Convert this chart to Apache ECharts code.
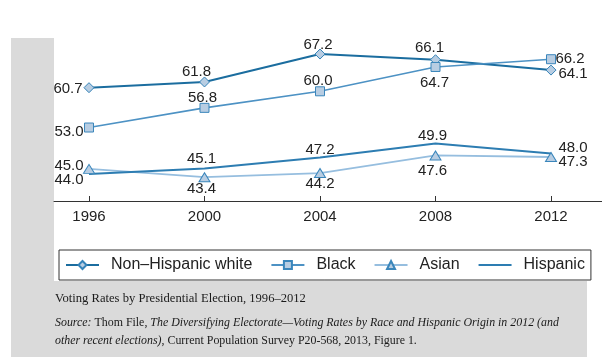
<!DOCTYPE html>
<html>
<head>
<meta charset="utf-8">
<script src="https://cdn.jsdelivr.net/npm/echarts@6/dist/echarts.min.js"></script>
<style>
html,body{margin:0;padding:0;background:#fff;}
#chart{width:602px;height:357px;}
</style>
</head>
<body>
<div id="chart"></div>
<script>
// ---- data ----
const years = [1996, 2000, 2004, 2008, 2012];
const tickLabels = ['1996', '2000', '2004', '2008', '2012'];
const seriesNames = ['Non\u2013Hispanic white', 'Black', 'Asian', 'Hispanic'];
const whiteVals = [60.7, 61.8, 67.2, 66.1, 64.1];
const blackVals = [53.0, 56.8, 60.0, 64.7, 66.2];
const asianVals = [45.0, 43.4, 44.2, 47.6, 47.3];
const hispanicVals = [44.0, 45.1, 47.2, 49.9, 48.0];
const captionTitle = 'Voting Rates by Presidential Election, 1996\u20132012';

// ---- label placement (style only) ----
const whiteOff = [[-21, 1], [-8, -10], [-2, -9], [-6, -12], [22, 4]];
const blackOff = [[-20, 4], [-2, -10], [-2, -10], [-1, 16], [19, 0]];
const asianOff = [[-20, -3], [-3, 12], [0, 11], [-3, 15], [22, 5]];
const hispOff  = [[-20, 6], [-3, -10], [0, -8], [-3, -8], [22, -6]];

const FONT = "'Liberation Sans', Arial, sans-serif";
const SERIF = "'Liberation Serif', 'DejaVu Serif', serif";
const markerFill = '#b8cde2';

function mkData(vals, offs) {
  return years.map((y, i) => ({
    value: [y, vals[i]],
    label: { offset: offs[i] }
  }));
}
function mkSeries(name, vals, offs, color, width, symbol, size, border) {
  return {
    name: name,
    type: 'line',
    data: mkData(vals, offs),
    symbol: symbol,
    symbolSize: size,
    showSymbol: true,
    z: 3,
    lineStyle: { color: color, width: width },
    itemStyle: symbol === 'circle'
      ? { color: 'rgba(0,0,0,0)', borderWidth: 0 }
      : { color: markerFill, borderColor: border, borderWidth: 1 },
    label: {
      show: true,
      position: 'inside',
      align: 'center',
      verticalAlign: 'middle',
      color: '#222',
      fontFamily: FONT,
      fontSize: 15,
      formatter: p => p.value[1].toFixed(1)
    },
    emphasis: { disabled: true },
    animation: false
  };
}

const chart = echarts.init(document.getElementById('chart'), null, { renderer: 'canvas' });
chart.setOption({
  backgroundColor: '#ffffff',
  animation: false,
  grid: { left: 54, right: 0, top: 38, height: 163, containLabel: false },
  xAxis: {
    type: 'value',
    min: 1994.788,
    max: 2013.766,
    axisLine: { show: true, lineStyle: { color: '#333', width: 1 } },
    axisTick: { show: true, inside: true, length: 5, lineStyle: { color: '#333' }, customValues: years },
    axisLabel: {
      show: true, customValues: years, margin: 8,
      color: '#222', fontSize: 15, fontFamily: FONT,
      formatter: v => tickLabels[years.indexOf(v)] || ''
    },
    splitLine: { show: false }
  },
  yAxis: {
    type: 'value', min: 38.8, max: 70.3,
    show: false, splitLine: { show: false }
  },
  legend: {
    left: 59, top: 250,
    orient: 'horizontal',
    data: seriesNames,
    borderColor: '#333', borderWidth: 1,
    padding: [7, 6, 7, 6],
    itemWidth: 33, itemHeight: 10, itemGap: 18,
    textStyle: { color: '#222', fontSize: 16, fontFamily: FONT, padding: [0, 0, 0, 7] },
    backgroundColor: '#fff'
  },
  graphic: [
    { type: 'rect', z: -10, silent: true, shape: { x: 11, y: 38, width: 43, height: 319 }, style: { fill: '#dadada' } },
    { type: 'rect', z: -10, silent: true, shape: { x: 11, y: 281, width: 576, height: 76 }, style: { fill: '#dadada' } },
    { type: 'text', left: 55, top: 292, silent: true,
      style: { text: captionTitle, fill: '#1a1a1a', font: '12.6px ' + SERIF } },
    { type: 'text', left: 55, top: 314, silent: true,
      style: {
        text: '{i|Source:} Thom File, {i|The Diversifying Electorate\u2014Voting Rates by Race and Hispanic Origin in 2012 (and}\n{i|other recent elections)}, Current Population Survey P20-568, 2013, Figure 1.',
        fill: '#1a1a1a', font: '11.9px ' + SERIF, lineHeight: 18,
        rich: { i: { fontStyle: 'italic', fontFamily: SERIF, fontSize: 11.9, fill: '#1a1a1a', lineHeight: 18 } }
      } }
  ],
  series: [
    mkSeries(seriesNames[0], whiteVals, whiteOff, '#1b6d9f', 2, 'diamond', 10, '#3583b8'),
    mkSeries(seriesNames[1], blackVals, blackOff, '#4d92c4', 1.6, 'rect', 9, '#3a86bb'),
    mkSeries(seriesNames[2], asianVals, asianOff, '#96bedf', 1.8, 'triangle', [11, 9], '#3a86bb'),
    mkSeries(seriesNames[3], hispanicVals, hispOff, '#2d7db2', 2, 'circle', 1, '#2d7db2')
  ]
});
</script>
</body>
</html>
